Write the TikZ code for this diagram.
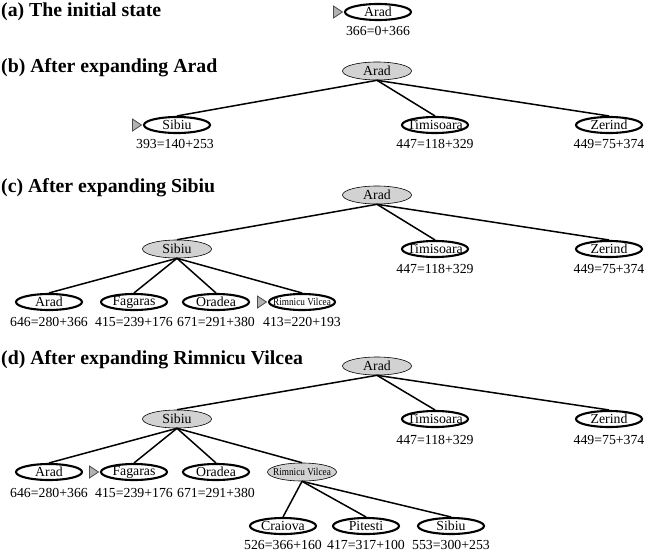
\documentclass[tikz,border=0pt]{standalone}
\usepackage{fontspec}
\setmainfont{Liberation Serif}
\usepackage{graphicx}
\usetikzlibrary{shapes.geometric,calc}
\newcommand\rvtext{{\fontsize{10.5}{11}\selectfont\scalebox{0.88}[1]{Rimnicu Vilcea}}}
\newcommand\pointer[1]{\draw[mk] ($(#1.west)+(-1.5,0)$) -- ++(-9,-6) -- ++(0,12) -- cycle;}
\tikzset{
  txt/.style={inner sep=0pt, font=\fontsize{13.8}{14}\selectfont},
  nd/.style={ellipse, draw, line width=2.1pt, minimum width=66pt, minimum height=16pt, inner sep=0pt, label={[txt]center:#1}},
  gnd/.style={ellipse, draw, line width=0.6pt, fill=gray!35, minimum width=69pt, minimum height=18pt, inner sep=0pt, label={[txt]center:#1}},
  lbl/.style={inner sep=0pt, font=\fontsize{13.8}{14}\selectfont},
  ttl/.style={inner sep=0pt, anchor=west, font=\bfseries\fontsize{19.8}{20}\selectfont},
  edge/.style={line width=1.5pt},
  mk/.style={fill=gray!60, draw=gray!60!black, line width=0.8pt, line join=miter}
}
\begin{document}
\begin{tikzpicture}[x=1pt,y=-1pt]
\useasboundingbox (0,0) rectangle (650,552);
% (a)
\node[ttl] (ta) at (1,12) {(a) The initial state};
\node[nd=Arad] (a0) at (378,12) {};
\node[lbl] (la0) at (378,31) {366=0+366};
\pointer{a0}
% (b)
\node[ttl] (tb) at (1,68) {(b) After expanding Arad};
\node[gnd=Arad] (b0) at (377,71) {};
\node[nd=Sibiu] (b1) at (177,125) {};
\node[nd=Timisoara] (b2) at (435,125) {};
\node[nd=Zerind] (b3) at (609,125) {};
\node[lbl] (lb1) at (175,144) {393=140+253};
\node[lbl] (lb2) at (435,144) {447=118+329};
\node[lbl] (lb3) at (609,144) {449=75+374};
\pointer{b1}
\draw[edge] (b0.south) -- (b1.north);
\draw[edge] (b0.south) -- (b2.north);
\draw[edge] (b0.south) -- (b3.north);
% (c)
\node[ttl] (tc) at (1,188) {(c) After expanding Sibiu};
\node[gnd=Arad] (c0) at (377,195) {};
\node[gnd=Sibiu] (c1) at (177,249) {};
\node[nd=Timisoara] (c2) at (435,249) {};
\node[nd=Zerind] (c3) at (609,249) {};
\node[lbl] (lc2) at (435,269) {447=118+329};
\node[lbl] (lc3) at (609,269) {449=75+374};
\node[nd=Arad] (c11) at (49,302) {};
\node[nd=Fagaras] (c12) at (134,302) {};
\node[nd=Oradea] (c13) at (216,302) {};
\node[nd=\rvtext] (c14) at (302,302) {};
\node[lbl] (lc11) at (49,322) {646=280+366};
\node[lbl] (lc12) at (134,322) {415=239+176};
\node[lbl] (lc13) at (216,322) {671=291+380};
\node[lbl] (lc14) at (302,322) {413=220+193};
\pointer{c14}
\draw[edge] (c0.south) -- (c1.north);
\draw[edge] (c0.south) -- (c2.north);
\draw[edge] (c0.south) -- (c3.north);
\draw[edge] (c1.south) -- (c11.north);
\draw[edge] (c1.south) -- (c12.north);
\draw[edge] (c1.south) -- (c13.north);
\draw[edge] (c1.south) -- (c14.north);
% (d)
\node[ttl] (td) at (1,360) {(d) After expanding Rimnicu Vilcea};
\node[gnd=Arad] (d0) at (377,366) {};
\node[gnd=Sibiu] (d1) at (177,419) {};
\node[nd=Timisoara] (d2) at (435,419) {};
\node[nd=Zerind] (d3) at (609,419) {};
\node[lbl] (ld2) at (435,440) {447=118+329};
\node[lbl] (ld3) at (609,440) {449=75+374};
\node[nd=Arad] (d11) at (49,472) {};
\node[nd=Fagaras] (d12) at (134,472) {};
\node[nd=Oradea] (d13) at (216,472) {};
\node[gnd=\rvtext] (d14) at (302,472) {};
\node[lbl] (ld11) at (49,493) {646=280+366};
\node[lbl] (ld12) at (134,493) {415=239+176};
\node[lbl] (ld13) at (216,493) {671=291+380};
\pointer{d12}
\node[nd=Craiova] (d141) at (283,526) {};
\node[nd=Pitesti] (d142) at (366,526) {};
\node[nd=Sibiu] (d143) at (451,526) {};
\node[lbl] (ld141) at (283,545) {526=366+160};
\node[lbl] (ld142) at (366,545) {417=317+100};
\node[lbl] (ld143) at (451,545) {553=300+253};
\draw[edge] (d0.south) -- (d1.north);
\draw[edge] (d0.south) -- (d2.north);
\draw[edge] (d0.south) -- (d3.north);
\draw[edge] (d1.south) -- (d11.north);
\draw[edge] (d1.south) -- (d12.north);
\draw[edge] (d1.south) -- (d13.north);
\draw[edge] (d1.south) -- (d14.north);
\draw[edge] (d14.south) -- (d141.north);
\draw[edge] (d14.south) -- (d142.north);
\draw[edge] (d14.south) -- (d143.north);
\end{tikzpicture}
\end{document}
